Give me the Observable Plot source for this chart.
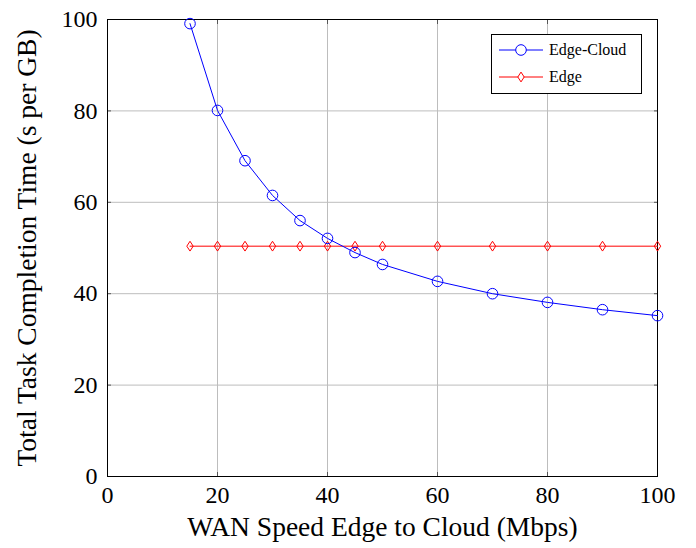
<!DOCTYPE html>
<html>
<head>
<meta charset="utf-8">
<script src="https://cdn.jsdelivr.net/npm/d3@7"></script>
<script src="https://cdn.jsdelivr.net/npm/@observablehq/plot@0.6"></script>
<style>
  html, body { margin: 0; padding: 0; background: #fff; }
  #wrap { position: relative; width: 696px; height: 548px; font-family: "Liberation Serif", "Times New Roman", serif; }
  #wrap svg, #wrap svg text { font-family: "Liberation Serif", "Times New Roman", serif !important; }
  #legend { position: absolute; left: 491px; top: 34px; width: 151px; height: 60px; border: 1px solid #000; background: #fff; box-sizing: border-box; font-size: 16px; }
  .row { position: absolute; left: 7px; display: flex; align-items: center; line-height: 16px; }
  .row span { margin-left: 6px; }
</style>
</head>
<body>
<div id="wrap"></div>
<script>
const speeds = [15, 20, 25, 30, 35, 40, 45, 50, 60, 70, 80, 90, 100];
const edgeCloudTime = [99.1, 80.1, 69.1, 61.5, 56.0, 52.1, 49.0, 46.4, 42.7, 40.0, 38.1, 36.5, 35.2];
const edgeTime = [50.4, 50.4, 50.4, 50.4, 50.4, 50.4, 50.4, 50.4, 50.4, 50.4, 50.4, 50.4, 50.4];
const xTicks = [0, 20, 40, 60, 80, 100];
const yTicks = [0, 20, 40, 60, 80, 100];
const seriesNames = ["Edge-Cloud", "Edge"];
const xLabel = "WAN Speed Edge to Cloud (Mbps)";
const yLabel = "Total Task Completion Time (s per GB)";

const ec = speeds.map((s, i) => ({x: s, y: edgeCloudTime[i]}));
const ed = speeds.map((s, i) => ({x: s, y: edgeTime[i]}));

const thinDiamond = {
  draw(context, size) {
    const w = 3.2, h = 4.9;
    context.moveTo(0, -h);
    context.lineTo(w, 0);
    context.lineTo(0, h);
    context.lineTo(-w, 0);
    context.closePath();
  }
};

const serif = "Liberation Serif";
const gridColor = "#bdbdbd";
const chart = Plot.plot({
  width: 696,
  height: 548,
  marginLeft: 107,
  marginRight: 39,
  marginTop: 19,
  marginBottom: 72,
  style: {fontFamily: serif, fontSize: "24px", color: "#000", background: "#fff"},
  x: {domain: [0, 100]},
  y: {domain: [0, 100]},
  marks: [
    Plot.gridX(xTicks, {stroke: gridColor, strokeOpacity: 1, strokeWidth: 1}),
    Plot.gridY(yTicks, {stroke: gridColor, strokeOpacity: 1, strokeWidth: 1}),
    Plot.axisX(xTicks, {anchor: "bottom", tickSize: -4, tickPadding: 13, stroke: "#555", fontSize: 24, fontFamily: serif, fill: "#000", label: null}),
    Plot.axisX(xTicks, {anchor: "bottom", tickSize: 0, tickFormat: () => "", fontSize: 27.5, fontFamily: serif, fill: "#000",
      label: xLabel, labelAnchor: "center", labelOffset: 59, labelArrow: "none"}),
    Plot.axisX(xTicks, {anchor: "top", tickSize: -4, stroke: "#555", tickFormat: () => "", label: null}),
    Plot.axisY(yTicks, {anchor: "left", tickSize: -4, tickPadding: 14, stroke: "#555", fontSize: 24, fontFamily: serif, fill: "#000", label: null}),
    Plot.axisY(yTicks, {anchor: "left", tickSize: 0, tickFormat: () => "", fontSize: 27.5, fontFamily: serif, fill: "#000",
      label: yLabel, labelAnchor: "center", labelOffset: 91, labelArrow: "none"}),
    Plot.axisY(yTicks, {anchor: "right", tickSize: -4, stroke: "#555", tickFormat: () => "", label: null}),
    Plot.frame({stroke: "#000", strokeWidth: 1}),
    Plot.line(ed, {x: "x", y: "y", stroke: "#ff0000", strokeWidth: 1}),
    Plot.dot(ed, {x: "x", y: "y", symbol: thinDiamond, stroke: "#ff0000", fill: "none", strokeWidth: 1}),
    Plot.line(ec, {x: "x", y: "y", stroke: "#0000ff", strokeWidth: 1}),
    Plot.dot(ec, {x: "x", y: "y", symbol: "circle", r: 5.3, stroke: "#0000ff", fill: "none", strokeWidth: 1})
  ]
});
const wrap = document.getElementById("wrap");
wrap.appendChild(chart);

const legend = document.createElement("div");
legend.id = "legend";
const sym = (color, kind) => {
  const shape = kind === "circle"
    ? `<circle cx="22" cy="8" r="5.3" fill="white" stroke="${color}"/>`
    : `<path d="M22,3.1 L25.2,8 L22,12.9 L18.8,8 Z" fill="white" stroke="${color}"/>`;
  return `<svg width="44" height="16"><line x1="0" y1="8" x2="44" y2="8" stroke="${color}"/>${shape}</svg>`;
};
legend.innerHTML =
  `<div class="row" style="top:7px">${sym("#0000ff", "circle")}<span>${seriesNames[0]}</span></div>` +
  `<div class="row" style="top:34px">${sym("#ff0000", "diamond")}<span>${seriesNames[1]}</span></div>`;
wrap.appendChild(legend);
</script>
</body>
</html>
